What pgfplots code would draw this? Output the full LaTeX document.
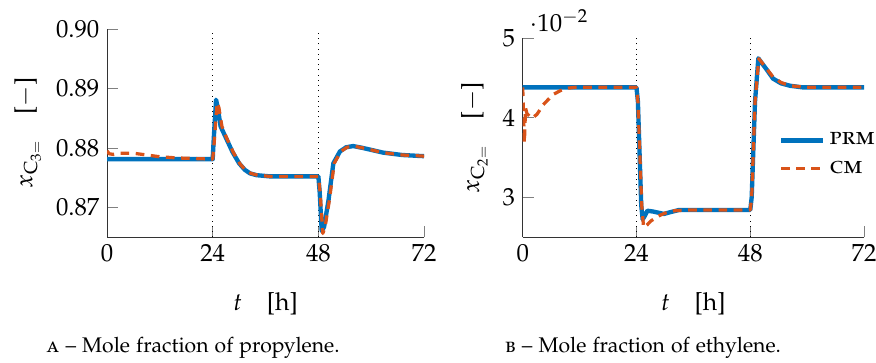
\documentclass[border=0pt]{standalone}
\usepackage[T1]{fontenc}
\usepackage[sc]{mathpazo}
\usepackage{pgfplots}
\pgfplotsset{compat=1.18}
\definecolor{mblue}{RGB}{0,114,189}
\definecolor{morange}{RGB}{217,83,25}
\newcommand{\bigf}{\fontsize{11.4}{13.5}\selectfont}
\pgfplotsset{
  myax/.style={
    scale only axis,
    axis lines*=left,
    axis line style={-, black!80},
    tick style={gray, major tick length=5pt},
    xmin=0, xmax=72, xtick={0,24,48,72},
    enlargelimits=false,
    tick label style={font=\bigf},
    label style={font=\bigf},
    y tick scale label style={font=\bigf},
    xlabel={$t$\quad[h]},
    xlabel style={yshift=-7pt},
    legend cell align=left,
    legend image code/.code={\draw[##1] (0cm,0cm) -- (0.68cm,0cm);},
  },
  prm/.style={mblue, line width=2pt, line join=round},
  cm/.style={morange, line width=1.5pt, line join=round, dash pattern=on 4pt off 3pt},
}
\begin{document}
\begin{tikzpicture}[x=0.4608pt,y=0.4608pt]
\begin{axis}[myax, at={(49.31pt,57.6pt)}, anchor=south west,
  width=146.1pt, height=95.85pt,
  ymin=0.865, ymax=0.90, ytick={0.87,0.88,0.89,0.90},
  yticklabel style={/pgf/number format/fixed, /pgf/number format/precision=2, /pgf/number format/fixed zerofill},
  ylabel={$x_{\mathrm{C}_{3=}}$\quad[$-$]}]
\addplot[black, dotted, thin] coordinates {(24,0.865)(24,0.90)};
\addplot[black, dotted, thin] coordinates {(48,0.865)(48,0.90)};
\addplot[prm] coordinates {(0,0.8781)(24,0.8781)(24.2,0.8810)(24.76,0.8881)(25.1,0.8870)(25.8,0.8836)(27,0.8817)(28.5,0.8793)(30,0.8774)(31.3,0.8763)(32.5,0.8757)(34,0.8754)(37,0.8752)(48,0.8752)(48.3,0.8725)(48.76,0.8660)(49.3,0.8667)(50.3,0.8712)(51.4,0.8774)(52.9,0.8794)(54.3,0.8801)(55.9,0.8803)(58,0.8800)(62.7,0.8792)(67,0.8788)(72,0.8786)};
\addplot[cm] coordinates {(0,0.8795)(0.5,0.8790)(1.5,0.8789)(3,0.8791)(6,0.8791)(9,0.8788)(12,0.8785)(16,0.8783)(20,0.8782)(24,0.8781)(24.3,0.8805)(25.0,0.8876)(25.4,0.8868)(26.1,0.8836)(27.2,0.8816)(28.7,0.8792)(30.2,0.8773)(31.5,0.8762)(32.7,0.8757)(34.2,0.8754)(37,0.8752)(48,0.8752)(48.4,0.8725)(49.0,0.8656)(49.5,0.8666)(50.5,0.8712)(51.6,0.8774)(53.1,0.8794)(54.5,0.8801)(56,0.8803)(58,0.8800)(62.7,0.8792)(67,0.8788)(72,0.8786)};
\end{axis}
\begin{axis}[myax, at={(240.86pt,57.6pt)}, anchor=south west,
  width=157.3pt, height=91.7pt,
  ymin=0.025, ymax=0.05, ytick={0.03,0.04,0.05},
  ylabel={$x_{\mathrm{C}_{2=}}$\quad[$-$]},
  legend style={draw=none, fill=none, at={(0.73,0.57)}, anchor=north west, row sep=2pt, font=\bigf}]
\addplot[black, dotted, thin, forget plot] coordinates {(24,0.025)(24,0.05)};
\addplot[black, dotted, thin, forget plot] coordinates {(48,0.025)(48,0.05)};
\addplot[prm] coordinates {(0,0.0438)(24,0.0438)(24.3,0.0420)(25.0,0.0290)(25.3,0.0272)(25.7,0.0276)(26.3,0.0283)(27.5,0.0282)(29.8,0.0279)(31,0.0281)(33,0.0284)(48,0.0284)(48.3,0.0300)(49.0,0.0420)(49.7,0.04745)(50.5,0.0468)(51.5,0.0460)(52.8,0.0449)(54.5,0.0443)(56.4,0.0440)(59,0.0438)(72,0.0438)};
\addlegendentry{\textsc{prm}}
\addplot[cm] coordinates {(0,0.0438)(0.15,0.0410)(0.35,0.0368)(0.6,0.0412)(0.9,0.0405)(1.9,0.0399)(3,0.0404)(4.3,0.0416)(6.4,0.0429)(8,0.0434)(9.6,0.0437)(11,0.0438)(24,0.0438)(24.3,0.0420)(25.1,0.0290)(25.5,0.0262)(26.2,0.0265)(27,0.0270)(28.5,0.0276)(30,0.0280)(32,0.0283)(35,0.0284)(48,0.0284)(48.3,0.0300)(49.0,0.0420)(49.8,0.0474)(50.6,0.0468)(51.5,0.0461)(52.8,0.0451)(54.5,0.0444)(56.4,0.0440)(60,0.0438)(72,0.0438)};
\addlegendentry{\textsc{cm}}
\end{axis}
\node[anchor=base, font=\fontsize{9.75}{11}\selectfont] at (193,10) {\textsc{a} -- Mole fraction of propylene.};
\node[anchor=base, font=\fontsize{9.75}{11}\selectfont] at (643,10) {\textsc{b} -- Mole fraction of ethylene.};
\pgfresetboundingbox
\path (0,0) rectangle (876,362);
\end{tikzpicture}
\end{document}
